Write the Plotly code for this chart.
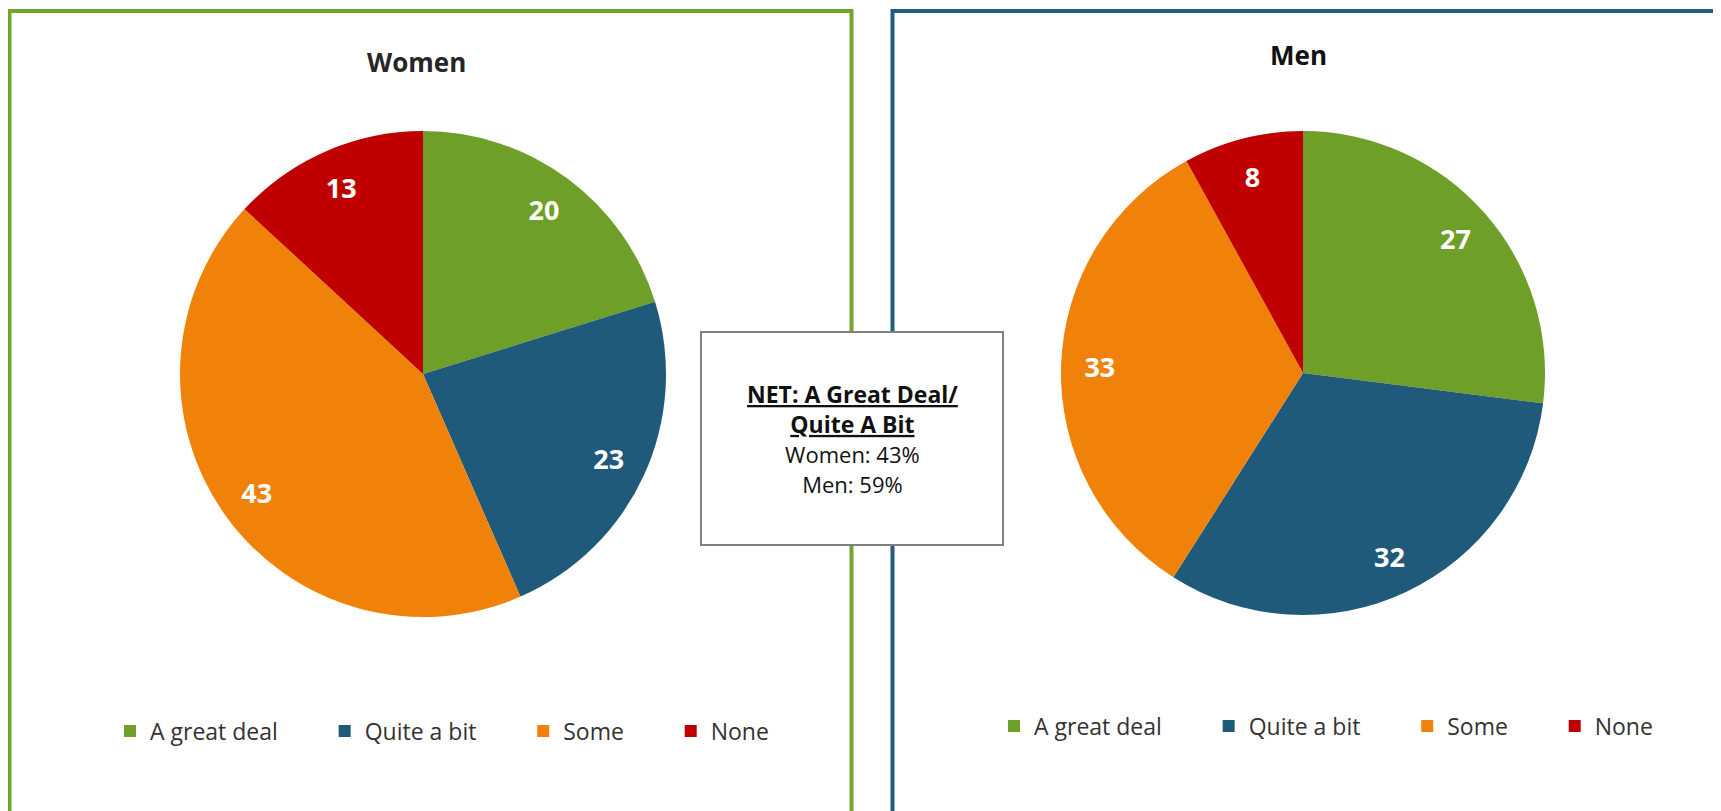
import plotly.graph_objects as go

W, H = 1721, 811
OFF = 8  # page body margin in the browser

categories = ["A great deal", "Quite a bit", "Some", "None"]
women_values = [20, 23, 43, 13]
men_values = [27, 32, 33, 8]
colors = ["#6E9F28", "#1F5A7B", "#F0820A", "#C00000"]
panel_titles = ["Women", "Men"]
net_title = ["NET: A Great Deal/", "Quite A Bit"]
net_lines = ["Women: 43%", "Men: 59%"]

FONT = "Open Sans"
PAD = "\u00a0" * 7
legend_labels = [c + PAD for c in categories]


def px(x):
    return (x - OFF) / W


def py(y):
    return 1 - (y - OFF) / H


fig = go.Figure()

panels = [
    (women_values, dict(x=[px(180), px(666)], y=[py(617), py(131)]), "legend", "women"),
    (men_values, dict(x=[px(1061), px(1545)], y=[py(615), py(131)]), "legend2", "men"),
]

for values, dom, leg, grp in panels:
    # the coloured pie
    fig.add_trace(go.Pie(
        labels=legend_labels, values=values, sort=False, direction="clockwise",
        rotation=0, marker=dict(colors=colors, line=dict(width=0)),
        textinfo="none", domain=dom, legend=leg, legendgroup=grp,
        hovertemplate="%{customdata}: %{value}<extra></extra>", customdata=categories,
    ))
    # transparent ring carrying the value labels near the rim
    fig.add_trace(go.Pie(
        labels=legend_labels, values=values, sort=False, direction="clockwise",
        rotation=0, hole=0.68,
        marker=dict(colors=["rgba(0,0,0,0)"] * len(values), line=dict(width=0)),
        texttemplate="%{value}", textposition="inside", insidetextorientation="horizontal",
        textfont=dict(family=FONT, size=27, color="white", weight="bold"),
        domain=dom, showlegend=False, hoverinfo="skip", legend=leg, legendgroup=grp,
    ))

shapes = [
    dict(type="rect", xref="paper", yref="paper", x0=px(9.5), x1=px(851.5), y0=py(11), y1=py(950),
         line=dict(color="#71A62B", width=4), fillcolor="rgba(0,0,0,0)", layer="below"),
    dict(type="rect", xref="paper", yref="paper", x0=px(892.5), x1=px(1850), y0=py(11), y1=py(950),
         line=dict(color="#215E82", width=4), fillcolor="rgba(0,0,0,0)", layer="below"),
    dict(type="rect", xref="paper", yref="paper", x0=px(701), x1=px(1003), y0=py(332), y1=py(545),
         line=dict(color="#808080", width=2), fillcolor="white", layer="above"),
]

net_text = "<br>".join(
    ["<b><u>%s</u></b>" % t for t in net_title]
    + ['<span style="font-size:22px">%s</span>' % t for t in net_lines]
)

annotations = [
    dict(text="<b>%s</b>" % panel_titles[0], x=px(416), y=py(62), xref="paper", yref="paper",
         showarrow=False, xanchor="center", yanchor="middle",
         font=dict(family=FONT, size=26, color="#262626")),
    dict(text="<b>%s</b>" % panel_titles[1], x=px(1298), y=py(55), xref="paper", yref="paper",
         showarrow=False, xanchor="center", yanchor="middle",
         font=dict(family=FONT, size=26, color="#111111")),
    dict(text=net_text, x=px(852), y=py(439), xref="paper", yref="paper",
         showarrow=False, xanchor="center", yanchor="middle", align="center",
         font=dict(family=FONT, size=23, color="#111111")),
]

legend_common = dict(orientation="h", yanchor="middle", xanchor="left", traceorder="normal",
                     font=dict(family=FONT, size=23, color="#333333"),
                     bgcolor="rgba(0,0,0,0)", itemclick=False, itemdoubleclick=False)

fig.update_layout(
    width=W, height=H,
    margin=dict(l=0, r=0, t=0, b=0),
    paper_bgcolor="white", plot_bgcolor="white",
    shapes=shapes, annotations=annotations,
    legend=dict(x=px(110), y=py(731), **legend_common),
    legend2=dict(x=px(994), y=py(726), **legend_common),
    showlegend=True,
)

fig.write_html("out.html")
